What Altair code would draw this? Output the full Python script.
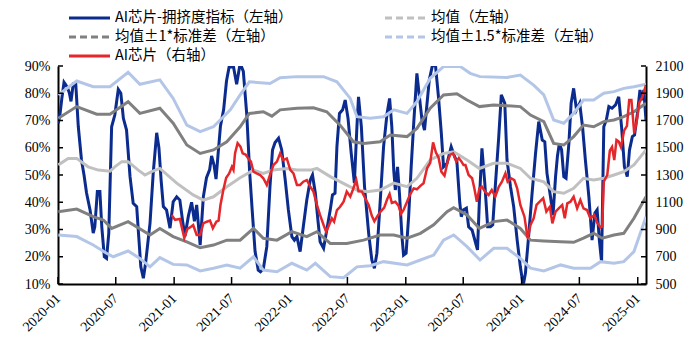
import altair as alt
import pandas as pd

# ---------------- data ----------------
blue_dates = ["2020-01-02","2020-01-07","2020-01-13","2020-01-20","2020-01-26","2020-01-31","2020-02-06","2020-02-11","2020-02-18","2020-02-26",
"2020-03-05","2020-03-15","2020-03-23","2020-03-31","2020-04-11","2020-04-21","2020-04-26","2020-05-04","2020-05-12","2020-05-18",
"2020-05-26","2020-06-02","2020-06-09","2020-06-18","2020-06-28","2020-07-09","2020-07-17","2020-07-25","2020-08-04","2020-08-15",
"2020-08-25","2020-09-05","2020-09-10","2020-09-18","2020-09-26","2020-10-03","2020-10-17","2020-10-27","2020-11-07","2020-11-14",
"2020-11-21","2020-11-28","2020-12-08","2020-12-19","2020-12-29","2021-01-09","2021-01-19","2021-01-28","2021-02-04","2021-02-15",
"2021-02-25","2021-03-06","2021-03-13","2021-03-24","2021-04-03","2021-04-13","2021-04-23","2021-04-29","2021-05-07","2021-05-13",
"2021-05-19","2021-05-27","2021-06-06","2021-06-15","2021-06-23","2021-07-07","2021-07-17","2021-07-28","2021-08-07","2021-08-18",
"2021-08-27","2021-09-04","2021-09-13","2021-09-23","2021-09-30","2021-10-09","2021-10-20","2021-10-30","2021-11-07","2021-11-15",
"2021-11-26","2021-12-06","2021-12-17","2021-12-27","2022-01-07","2022-01-15","2022-01-23","2022-02-02","2022-02-12","2022-02-23",
"2022-03-06","2022-03-13","2022-03-22","2022-03-30","2022-04-06","2022-04-17","2022-04-27","2022-05-08","2022-05-15","2022-05-23",
"2022-05-29","2022-06-06","2022-06-16","2022-06-24","2022-07-03","2022-07-13","2022-07-23","2022-07-31","2022-08-05","2022-08-14",
"2022-08-24","2022-09-06","2022-09-16","2022-09-24","2022-10-02","2022-10-12","2022-10-23","2022-11-03","2022-11-11","2022-11-18",
"2022-11-24","2022-11-29","2022-12-06","2022-12-12","2022-12-20","2022-12-25","2023-01-02","2023-01-10","2023-01-18","2023-01-26",
"2023-02-05","2023-02-13","2023-02-21","2023-03-01","2023-03-09","2023-03-16","2023-03-25","2023-04-04","2023-04-14","2023-04-23",
"2023-04-30","2023-05-11","2023-05-24","2023-06-04","2023-06-11","2023-06-20","2023-06-25","2023-07-02","2023-07-11","2023-07-18",
"2023-07-29","2023-08-08","2023-08-15","2023-08-21","2023-08-29","2023-09-07","2023-09-16","2023-09-25","2023-10-02","2023-10-10",
"2023-10-21","2023-10-29","2023-11-09","2023-11-16","2023-11-27","2023-12-07","2023-12-18","2023-12-28","2024-01-06","2024-01-13",
"2024-01-23","2024-02-03","2024-02-14","2024-02-24","2024-03-06","2024-03-14","2024-03-21","2024-04-01","2024-04-09","2024-04-17",
"2024-04-23","2024-04-29","2024-05-06","2024-05-13","2024-05-20","2024-05-29","2024-06-05","2024-06-13","2024-06-22","2024-07-02",
"2024-07-11","2024-07-20","2024-07-31","2024-08-10","2024-08-19","2024-08-26","2024-09-02","2024-09-09","2024-09-16","2024-09-24",
"2024-10-02","2024-10-12","2024-10-23","2024-11-02","2024-11-11","2024-11-20","2024-11-29","2024-12-06","2024-12-15","2024-12-22",
"2024-12-31","2025-01-08","2025-01-15","2025-01-20","2025-01-27"]
blue_vals = [69,72,78,84,83,82,80,77,83.4,83.4,
67.7,55.5,50,43.4,37.2,28.7,31,43.9,43.9,31,
20,19.4,28.6,67.7,72,81.4,80,70.8,66.5,49.4,
39.6,38.4,29.8,16.3,12.1,17.6,32.3,50.6,65.5,60,
48,38.4,37.2,30.5,40.2,42,40.8,32.9,27.5,35,
40,33,39,24.3,42,49,52,57,53.5,48.5,
57,68,74,84.5,89.5,89.7,83.3,91,88,72,
51,37,22,15.1,14.5,15.5,23.7,45.7,59.2,61.9,
63.5,59.2,48.2,37.2,27.4,26.1,27.4,21.9,31,40.8,
48.2,50,43.3,33.5,25.5,23.1,29.8,37.2,42.7,43.3,
60.4,72.6,73.9,77.5,70.8,58,47,67.7,78.7,67.7,
45.7,28.6,18.8,15.8,21.3,39.6,60.4,72.6,78.1,67.7,
51.8,44.5,53,43.3,27.4,20.6,21.3,34.7,53,69,
87.3,78.7,70.2,66.5,76.3,84.9,89.7,91,78.7,65.3,
53,54.3,60.4,56.7,55,40,34.7,37.2,37.8,31,
29.8,25.5,22.5,40.8,59.8,47,31,31,31.7,45.7,
64.1,79.4,76.3,55.5,45.7,38.4,26.1,16.3,9.5,13.9,
27.4,43.3,58,69.6,62.8,62.2,50.6,42,35.3,49.4,
57,61.6,59.2,49.4,48.8,61.6,76.3,81.8,73.9,76.3,
67.7,55.5,42,26.1,36,37.2,26.1,18.2,67.7,70.2,
75.1,74.5,75.7,78.7,67.7,53,49.4,59.2,64.1,64.7,
72.6,81.2,77.5,81.2,70]

red_dates = ["2020-12-24","2021-01-04","2021-01-13","2021-01-19","2021-02-02","2021-02-12","2021-02-20","2021-03-02","2021-03-13","2021-03-24",
"2021-04-03","2021-04-14","2021-04-24","2021-05-03","2021-05-14","2021-05-21","2021-05-27","2021-06-05","2021-06-14","2021-06-23",
"2021-07-02","2021-07-07","2021-07-12","2021-07-20","2021-07-29","2021-08-05","2021-08-14","2021-08-23","2021-08-31","2021-09-08",
"2021-09-18","2021-09-29","2021-10-09","2021-10-20","2021-10-30","2021-11-10","2021-11-21","2021-12-01","2021-12-11","2021-12-22",
"2022-01-02","2022-01-12","2022-01-23","2022-02-02","2022-02-12","2022-02-23","2022-03-06","2022-03-16","2022-03-27","2022-04-06",
"2022-04-17","2022-04-25","2022-05-02","2022-05-13","2022-05-20","2022-05-29","2022-06-08","2022-06-19","2022-06-29","2022-07-10",
"2022-07-18","2022-07-29","2022-08-05","2022-08-16","2022-08-26","2022-09-06","2022-09-16","2022-09-24","2022-10-04","2022-10-15",
"2022-10-25","2022-11-03","2022-11-11","2022-11-18","2022-11-29","2022-12-09","2022-12-17","2022-12-25","2023-01-05","2023-01-15",
"2023-01-26","2023-02-05","2023-02-16","2023-02-26","2023-03-09","2023-03-19","2023-03-28","2023-04-06","2023-04-14","2023-04-23",
"2023-05-03","2023-05-13","2023-05-21","2023-05-30","2023-06-09","2023-06-17","2023-06-25","2023-07-02","2023-07-08","2023-07-18",
"2023-07-29","2023-08-05","2023-08-13","2023-08-21","2023-08-29","2023-09-08","2023-09-19","2023-09-29","2023-10-10","2023-10-21",
"2023-10-31","2023-11-11","2023-11-18","2023-11-29","2023-12-09","2023-12-18","2023-12-28","2024-01-10","2024-01-20","2024-01-29",
"2024-02-08","2024-02-17","2024-02-27","2024-03-09","2024-03-19","2024-03-30","2024-04-07","2024-04-17","2024-04-27","2024-05-08",
"2024-05-16","2024-05-24","2024-06-03","2024-06-13","2024-06-24","2024-07-04","2024-07-14","2024-07-25","2024-08-05","2024-08-17",
"2024-08-26","2024-09-06","2024-09-11","2024-09-16","2024-09-27","2024-10-05","2024-10-12","2024-10-19","2024-10-26","2024-11-02",
"2024-11-09","2024-11-19","2024-11-28","2024-12-05","2024-12-12","2024-12-21","2024-12-29","2025-01-06","2025-01-15","2025-01-27"]
red_vals = [1006,970,975,977,838,905,915,933,860,860,
945,957,965,909,957,965,1080,1190,1280,1310,
1361,1337,1460,1533,1508,1459,1450,1422,1398,1324,
1312,1300,1276,1227,1300,1373,1398,1459,1410,1422,
1337,1312,1227,1227,1251,1263,1214,1178,1080,1006,
933,884,920,982,957,1043,1067,1104,1178,1141,
1190,1263,1180,1178,1129,1080,1000,960,1000,1035,
1060,1120,1160,1095,1104,1075,1015,1043,1104,1160,
1202,1195,1220,1239,1349,1390,1540,1465,1430,1325,
1295,1400,1450,1459,1400,1425,1400,1373,1373,1300,
1276,1202,1104,1202,1214,1178,1153,1190,1141,1214,
1251,1312,1251,1276,1263,1202,1080,994,835,933,
982,1080,1104,1129,1031,1067,945,1031,1055,1080,
982,1092,1104,1141,1055,1116,1055,1043,982,1006,
950,915,920,1251,1300,1478,1505,1410,1557,1545,
1505,1625,1660,1851,1851,1606,1698,1832,1869,1961]

mean_dates = ["2020-01-02","2020-02-02","2020-02-29","2020-04-05","2020-05-07","2020-06-13","2020-06-28","2020-07-20","2020-08-09","2020-09-10",
"2020-10-01","2020-10-22","2020-11-17","2021-01-09","2021-03-02","2021-04-03","2021-05-05","2021-06-16","2021-07-28","2021-09-08",
"2021-10-09","2021-11-10","2021-12-22","2022-01-23","2022-03-06","2022-03-27","2022-05-08","2022-06-29","2022-07-31","2022-09-01",
"2022-10-12","2022-11-24","2023-01-05","2023-02-05","2023-03-19","2023-04-30","2023-06-01","2023-07-13","2023-08-21","2023-10-05",
"2023-11-16","2023-12-28","2024-01-29","2024-03-11","2024-04-11","2024-05-13","2024-06-13","2024-07-14","2024-08-15","2024-09-16",
"2024-10-18","2024-11-18","2024-12-20","2025-01-27"]
mean_vals = [53.7,56.1,56.1,53,51.8,51.4,53,54.9,54.9,51.8,
50,51.2,52.4,47,42.7,40.8,42,45.7,49,51.8,
50.6,51.8,52.4,51.8,51.8,52.4,49.4,46.3,44.5,43.9,
44.5,47,45.7,48.8,55.5,57.9,58.5,55.5,52.4,54.3,
54.3,52.4,48.8,47.5,43.9,43.3,45.1,48.8,48.2,48.8,
50,51.2,53.7,59.2]

sd1u_dates = ["2020-01-02","2020-02-29","2020-05-02","2020-06-13","2020-08-09","2020-09-15","2020-11-17","2020-12-29","2021-02-10","2021-03-24",
"2021-05-05","2021-06-16","2021-07-28","2021-08-26","2021-10-09","2021-11-05","2021-12-01","2022-01-23","2022-03-16","2022-04-27",
"2022-06-08","2022-07-20","2022-08-21","2022-10-12","2022-11-13","2023-01-05","2023-02-05","2023-03-19","2023-04-30","2023-06-11",
"2023-07-13","2023-08-21","2023-10-05","2023-11-16","2023-12-28","2024-01-29","2024-03-11","2024-04-11","2024-05-13","2024-06-13",
"2024-07-14","2024-08-15","2024-09-16","2024-10-18","2024-11-18","2024-12-20","2025-01-27"]
sd1u_vals = [70.8,75.1,72.3,72.3,76.9,72.6,74.5,69,61,57.9,
59.2,62.2,67.7,72.6,73.2,71.6,73.9,74.5,74.7,73.2,
68.3,62.2,61.6,62.2,64.7,64.1,67.1,74.5,79.4,79.8,
77.5,75.1,75.7,75.4,75.1,72,69.6,61.6,61,64.1,
68.3,67.7,69.6,70.2,71.4,73.2,76.3]

sd1l_dates = ["2020-01-02","2020-02-29","2020-04-21","2020-05-23","2020-06-18","2020-08-09","2020-10-17","2020-11-17","2020-12-29","2021-02-10",
"2021-03-24","2021-05-05","2021-06-16","2021-07-28","2021-09-08","2021-10-09","2021-11-21","2022-01-07","2022-02-23","2022-03-27",
"2022-05-08","2022-06-29","2022-08-21","2022-10-12","2022-11-24","2023-01-05","2023-02-16","2023-03-30","2023-05-11","2023-06-01",
"2023-07-13","2023-08-21","2023-10-05","2023-11-16","2023-12-28","2024-01-29","2024-03-11","2024-05-03","2024-06-13","2024-07-14",
"2024-08-15","2024-09-11","2024-10-18","2024-11-18","2024-12-20","2025-01-27"]
sd1l_vals = [36.5,37.5,34.7,33.5,30.4,32.9,28,30.4,27.4,25.5,
23.3,24.3,26.1,26.1,30.4,26.8,26.1,29.2,27.4,29.2,
24.9,24.9,26.1,28,28,26.8,28.6,31.7,36.5,38,
35.3,30.4,32.9,33.5,30.4,26.1,25.8,25.5,25.3,26.8,
28.6,26.8,28,28.6,34.1,42]

sd15u_dates = ["2020-01-02","2020-02-29","2020-04-21","2020-06-13","2020-08-09","2020-09-15","2020-11-17","2020-12-29","2021-02-10","2021-03-24",
"2021-05-05","2021-06-27","2021-07-28","2021-08-26","2021-10-30","2021-12-01","2022-01-23","2022-04-17","2022-05-29","2022-07-10",
"2022-07-31","2022-09-11","2022-10-23","2022-11-24","2023-01-05","2023-02-05","2023-03-19","2023-04-30","2023-06-22","2023-07-23",
"2023-08-23","2023-11-16","2023-12-28","2024-02-08","2024-03-11","2024-04-11","2024-05-13","2024-06-13","2024-07-14","2024-08-15",
"2024-09-16","2024-10-18","2024-11-18","2024-12-20","2025-01-27"]
sd15u_vals = [79.4,84.5,82.4,82.4,87.7,83.3,84.9,78.1,68.3,65.9,
67.7,73.9,79.4,84.2,83.6,85.7,86.1,86.1,84.2,78.1,
71.4,70.8,71.4,73.9,72.6,76.9,85.5,89.8,89.8,87.3,
86.1,85.8,86.7,83,79.4,70.2,69,72.6,77.5,77.5,
80,80.6,81.8,82.4,83.3]

sd15l_dates = ["2020-01-02","2020-02-29","2020-04-21","2020-06-02","2020-06-23","2020-08-09","2020-09-15","2020-10-17","2020-11-17","2020-12-29",
"2021-02-10","2021-03-24","2021-05-05","2021-06-16","2021-07-28","2021-09-08","2021-10-09","2021-11-21","2022-01-07","2022-02-23",
"2022-03-22","2022-05-08","2022-06-19","2022-07-31","2022-09-11","2022-10-23","2023-01-05","2023-02-16","2023-03-30","2023-04-30",
"2023-06-01","2023-07-13","2023-08-23","2023-10-05","2023-11-16","2023-12-28","2024-01-29","2024-03-11","2024-05-03","2024-06-13",
"2024-08-05","2024-09-06","2024-10-18","2024-11-18","2024-12-20","2025-01-27"]
sd15l_vals = [28,27.4,24.3,21.3,20,22.1,19.4,16.3,19.7,17.2,
17,14.8,15.8,17,15.8,20,15.1,14.5,17.6,15.1,
17.6,12.7,12.3,16.3,16.7,18.2,17,18.8,20.6,26.1,
28,23.7,18.8,23.1,23.1,19.4,15.8,14.8,17,15.8,
15.8,18.2,17.6,18.2,21.9,34.7]

left_ticks = [10, 20, 30, 40, 50, 60, 70, 80, 90]
right_ticks = [500, 700, 900, 1100, 1300, 1500, 1700, 1900, 2100]
x_tick_dates = ["2020-01-01","2020-07-01","2021-01-01","2021-07-01","2022-01-01","2022-07-01",
                "2023-01-01","2023-07-01","2024-01-01","2024-07-01","2025-01-01"]

legend_items = [
    ("AI芯片-拥挤度指标（左轴）", "#0B2C8E", False, 0, 0),
    ("均值（左轴）", "#C0C0C0", True, 1, 0),
    ("均值±1*标准差（左轴）", "#808080", True, 0, 1),
    ("均值±1.5*标准差（左轴）", "#B4C6E7", True, 1, 1),
    ("AI芯片（右轴）", "#E5262A", False, 0, 2),
]

# ---------------- chart ----------------
W, H = 588, 218
SERIF = "Liberation Serif"
CJK = "Noto Sans CJK SC"

def frame(d, v):
    return pd.DataFrame({"date": d, "v": v})

def dt(s):
    y, m, d = (int(p) for p in s.split("-"))
    return alt.DateTime(year=y, month=m, date=d, utc=True)

xscale = alt.Scale(type="utc", domain=[dt("2020-01-01"), dt("2025-01-27")])
yL = alt.Scale(domain=[10, 90], nice=False, zero=False)
yR = alt.Scale(domain=[500, 2100], nice=False, zero=False)

x_axis = alt.Axis(values=[dt(s) for s in x_tick_dates],
                  labelExpr="utcFormat(datum.value, '%Y-%m')",
                  labelAngle=-45, labelAlign="right", labelBaseline="middle",
                  labelPadding=12, labelFont=SERIF, labelFontSize=14, labelColor="black",
                  ticks=False, grid=False, domainColor="black", domainWidth=2, title=None,
                  labelOverlap=False, labelBound=False, labelFlush=False)
yl_axis = alt.Axis(values=left_ticks, labelExpr="datum.value + '%'", labelFont=SERIF,
                   labelFontSize=14, labelColor="black", labelPadding=8, ticks=False,
                   grid=False, domainColor="black", domainWidth=2, title=None,
                   labelOverlap=False, labelFlush=False)
yr_axis = alt.Axis(orient="right", values=right_ticks, labelExpr="format(datum.value, 'd')",
                   labelFont=SERIF, labelFontSize=14,
                   labelColor="black", labelPadding=9, ticks=False, grid=False,
                   domainColor="black", domainWidth=2, title=None,
                   labelOverlap=False, labelFlush=False)

def left_line(d, v, color, width):
    return alt.Chart(frame(d, v)).mark_line(color=color, strokeWidth=width, clip=True).encode(
        x=alt.X("date:T", scale=xscale, axis=x_axis),
        y=alt.Y("v:Q", scale=yL, axis=yl_axis),
    )

blue = left_line(blue_dates, blue_vals, "#0B2C8E", 3)
mean = left_line(mean_dates, mean_vals, "#C0C0C0", 3)
s1u = left_line(sd1u_dates, sd1u_vals, "#808080", 3)
s1l = left_line(sd1l_dates, sd1l_vals, "#808080", 3)
s15u = left_line(sd15u_dates, sd15u_vals, "#B4C6E7", 3)
s15l = left_line(sd15l_dates, sd15l_vals, "#B4C6E7", 3)

lticks = alt.Chart(pd.DataFrame({"t": left_ticks})).mark_rule(color="black", strokeWidth=1.5).encode(
    y=alt.Y("t:Q", scale=yL, axis=yl_axis), x=alt.value(0), x2=alt.value(5))
bticks = alt.Chart(pd.DataFrame({"d": x_tick_dates})).mark_rule(color="black", strokeWidth=1.5).encode(
    x=alt.X("d:T", scale=xscale, axis=x_axis), y=alt.value(H), y2=alt.value(H - 7))

leg_layers = []
for label, color, dashed, col, row in legend_items:
    x0 = 11 if col == 0 else 327
    yy = -48 + row * 19
    one = pd.DataFrame({"k": [0]})
    rule_kwargs = dict(color=color, strokeWidth=3)
    if dashed:
        rule_kwargs["strokeDash"] = [7, 4]
    leg_layers.append(alt.Chart(one).mark_rule(**rule_kwargs).encode(
        x=alt.value(x0), x2=alt.value(x0 + 41), y=alt.value(yy)))
    leg_layers.append(alt.Chart(one).mark_text(align="left", baseline="middle", font=CJK,
                                               fontSize=14.5, color="black").encode(
        x=alt.value(x0 + 46), y=alt.value(yy), text=alt.value(label)))

left = alt.layer(blue, mean, s1u, s1l, s15u, s15l, lticks, bticks, *leg_layers)

red = alt.Chart(frame(red_dates, red_vals)).mark_line(color="#E5262A", strokeWidth=2.5, clip=True).encode(
    x=alt.X("date:T", scale=xscale, axis=x_axis),
    y=alt.Y("v:Q", scale=yR, axis=yr_axis),
)
rticks = alt.Chart(pd.DataFrame({"t": right_ticks})).mark_rule(color="black", strokeWidth=1.5).encode(
    y=alt.Y("t:Q", scale=yR, axis=yr_axis), x=alt.value(W), x2=alt.value(W - 5))
right = alt.layer(red, rticks)

chart = alt.layer(left, right).resolve_scale(y="independent").properties(
    width=W, height=H,
    padding={"left": 50, "top": 58, "right": 44, "bottom": 71},
    autosize=alt.AutoSizeParams(type="none"),
    background="white",
).configure_view(stroke=None)

chart.save("out.html", embed_options={"renderer": "svg", "actions": False})
